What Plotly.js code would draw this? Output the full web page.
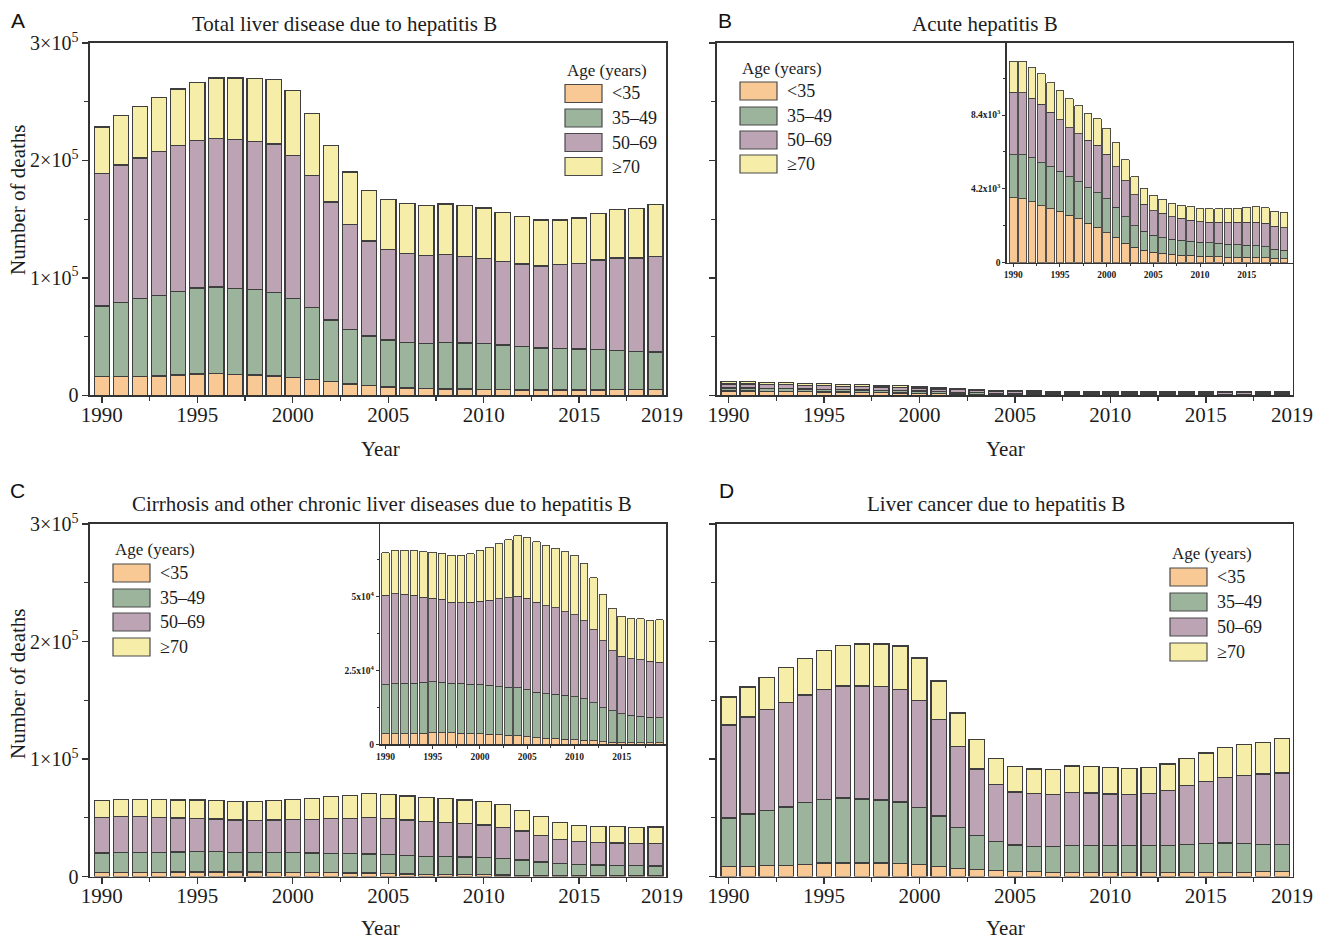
<!DOCTYPE html>
<html><head><meta charset="utf-8">
<script src="https://cdn.plot.ly/plotly-3.0.1.min.js"></script>
<style>html,body{margin:0;padding:0;background:#fff}</style>
</head><body><div id="chart" style="width:1324px;height:940px"></div>
<script>
// ---------------- DATA ----------------
const years = [1990,1991,1992,1993,1994,1995,1996,1997,1998,1999,2000,2001,2002,2003,2004,2005,2006,2007,2008,2009,2010,2011,2012,2013,2014,2015,2016,2017,2018,2019];
const ageGroups = ['&lt;35','35–49','50–69','≥70'];

// Panel A: total liver disease due to hepatitis B (deaths)
const totalLt35 = [15900,15900,15900,16500,17300,18200,18800,17900,17300,16500,15300,13600,11600,9700,8200,7100,6300,5700,5400,5400,5100,4800,4500,4500,4500,4500,4500,4800,4800,5100];
const total35to49 = [60200,63400,66800,68400,71300,73300,73500,73000,72500,71000,67400,61100,52600,46600,42400,40100,38900,38600,39500,39200,39200,38100,37000,35800,35600,35000,34700,33600,32700,31800];
const total50to69 = [112500,116700,119300,122500,123900,125300,126500,126700,126400,126400,121800,112500,100300,88900,80900,77200,75800,75000,75300,73600,72200,71300,70400,69900,71000,73000,76100,78400,79500,81300];
const totalGe70 = [39800,42000,44000,46300,48300,49700,51400,52600,53700,54900,54900,52600,48000,44900,42900,42400,42100,42300,42600,43200,42900,41500,40400,39200,38300,38600,39800,41200,42100,44000];

// Panel B: acute hepatitis B (deaths)
const acuteLt35 = [3690,3633,3462,3254,3084,2914,2705,2497,2232,2005,1703,1438,1097,870,719,605,530,473,435,416,378,359,341,322,322,303,303,284,246,227];
const acute35to49 = [2460,2517,2498,2441,2365,2289,2176,2100,2044,1987,1930,1703,1514,1230,1059,946,889,851,833,795,795,776,756,738,700,700,662,624,530,492];
const acute50to69 = [3555,3518,3386,3311,3103,2933,2800,2744,2686,2687,2535,2308,2043,1760,1552,1400,1381,1287,1248,1211,1154,1154,1192,1229,1267,1286,1324,1324,1305,1268];
const acuteGe70 = [1760,1797,1779,1741,1684,1645,1646,1589,1552,1513,1476,1362,1211,1040,908,890,814,757,757,757,757,776,776,795,814,852,908,890,852,870];

// Panel C: cirrhosis and other chronic liver diseases due to hepatitis B (deaths)
const cirrLt35 = [3620,3620,3620,3620,3730,3850,3850,3850,3730,3620,3510,3390,3170,3050,2940,2600,2150,1920,1810,1700,1580,1360,1130,900,680,570,570,570,570,570];
const cirr35to49 = [16510,16850,17080,17080,17190,17300,17190,16730,16850,16740,16730,16510,16280,16290,16170,15840,15490,15160,15040,14810,14480,14020,12890,11540,10630,9720,9270,8930,8590,8360];
const cirr50to69 = [30200,30430,30080,29740,28840,28270,27930,27490,27260,27710,28170,28850,29750,30200,30990,30870,30430,29860,29300,28390,27820,26470,24770,22510,20250,19460,19110,19110,19000,18890];
const cirrGe70 = [14480,14700,14820,15160,15390,15610,15610,15830,16060,16400,17190,17860,18660,19560,20360,20590,20470,20360,20130,20250,20020,19450,17530,15830,14470,13570,13570,13800,13690,14360];

// Panel D: liver cancer due to hepatitis B (deaths)
const cancerLt35 = [8520,8800,9090,9660,10500,11400,11600,11600,11400,10800,9940,8520,6820,5680,4830,4260,3980,3690,3690,3690,3690,3410,3410,3410,3410,3690,3690,3690,3980,3980];
const cancer35to49 = [41180,44300,47110,49440,52300,53900,55100,54300,53600,52500,48860,42880,35180,29220,24670,22440,21820,21910,22710,22710,22710,22690,22690,22990,23890,24410,24710,24110,23520,23020];
const cancer50to69 = [79200,82700,86100,89100,91700,94000,95500,96300,96600,96000,91100,82100,68800,56500,48900,45200,44600,44300,45200,44600,43700,43500,44600,46600,49900,52800,55700,58300,59700,61000];
const cancerGe70 = [23900,25500,27200,29600,31200,33000,34600,35700,36300,36900,36100,32900,28400,25000,22100,21800,21000,21000,22400,22400,22500,22100,21900,22700,23300,24200,25500,26400,27000,29300];

// Tick labels
const mainYTickVals = [0,100000,200000,300000];
const mainYTickText = ['0','1×10<sup>5</sup>','2×10<sup>5</sup>','3×10<sup>5</sup>'];
const yearTickVals = [1990,1995,2000,2005,2010,2015];
const yearTickText = ['1990','1995','2000','2005','2010','2015'];
const acuteInsetTickVals = [0,4200,8400];
const acuteInsetTickText = ['0','4.2x10<sup>3</sup>','8.4x10<sup>3</sup>'];
const cirrInsetTickVals = [0,25000,50000];
const cirrInsetTickText = ['0','2.5x10<sup>4</sup>','5x10<sup>4</sup>'];

// ---------------- STYLE ----------------
const colors = ['#F8C895','#9CB49C','#BCA4B5','#F6EDA9'];
const edge = '#3e3e3e';
const serif = 'Liberation Serif, Times New Roman, serif';
const sans = 'Liberation Sans, Arial, sans-serif';
const txt = '#1c1c1c';
const W = 1324, H = 940;
const X = p => p / W, Y = p => 1 - p / H;

const traces = [];
function addPanel(series, xa, ya, w, lw) {
  series.forEach((vals, i) => {
    traces.push({
      type: 'bar', x: years, y: vals, name: ageGroups[i], xaxis: xa, yaxis: ya,
      width: w, showlegend: false, hoverinfo: 'x+y',
      marker: {color: colors[i], line: {color: edge, width: lw}}
    });
  });
}
addPanel([totalLt35,total35to49,total50to69,totalGe70], 'x', 'y', 0.8, 1.3);
addPanel([acuteLt35,acute35to49,acute50to69,acuteGe70], 'x2', 'y2', 0.8, 1.3);
addPanel([acuteLt35,acute35to49,acute50to69,acuteGe70], 'x3', 'y3', 0.84, 0.9);
addPanel([cirrLt35,cirr35to49,cirr50to69,cirrGe70], 'x4', 'y4', 0.8, 1.3);
addPanel([cirrLt35,cirr35to49,cirr50to69,cirrGe70], 'x5', 'y5', 0.8, 0.9);
addPanel([cancerLt35,cancer35to49,cancer50to69,cancerGe70], 'x6', 'y6', 0.8, 1.3);

const lineC = '#333333';
function mainX(dom, anchor) {
  return {domain: dom, anchor: anchor, range: [1989.38, 2019.55], showline: true, mirror: true,
    linecolor: lineC, linewidth: 1.6, ticks: 'outside', ticklen: 6, tickwidth: 1.4, tickcolor: lineC,
    tickmode: 'array', tickvals: yearTickVals, ticktext: yearTickText, ticklabelstandoff: -6,
    minor: {tickmode: 'array', tickvals: [1992.5,1997.5,2002.5,2007.5,2012.5,2017.5], ticklen: 4, tickwidth: 1.2, tickcolor: lineC, ticks: 'outside'},
    tickfont: {family: serif, size: 21, color: txt}, showgrid: false, zeroline: false, fixedrange: true};
}
function mainY(dom, anchor, labels) {
  return {domain: dom, anchor: anchor, range: [0, 300000], showline: true, mirror: true,
    linecolor: lineC, linewidth: 1.6, ticks: 'outside', ticklen: 6, tickwidth: 1.4, tickcolor: lineC,
    tickmode: 'array', tickvals: mainYTickVals, ticktext: mainYTickText, showticklabels: labels,
    minor: {tickmode: 'array', tickvals: [50000,150000,250000], ticklen: 4, tickwidth: 1.2, tickcolor: lineC, ticks: 'outside'},
    tickfont: {family: serif, size: 20, color: txt}, showgrid: false, zeroline: false, fixedrange: true};
}
function insetX(dom, anchor, range) {
  return {domain: dom, anchor: anchor, range: range, showline: true, mirror: false,
    linecolor: lineC, linewidth: 1.2, ticks: 'outside', ticklen: 3, tickwidth: 1, tickcolor: lineC,
    tickmode: 'array', tickvals: yearTickVals, ticktext: yearTickText,
    minor: {tickmode: 'array', tickvals: [1992.5,1997.5,2002.5,2007.5,2012.5,2017.5], ticklen: 2, tickwidth: 1, tickcolor: lineC, ticks: 'outside'},
    tickfont: {family: serif, size: 9.5, color: txt, weight: 'bold'}, showgrid: false, zeroline: false, fixedrange: true};
}
function insetY(dom, anchor, range, vals, text, minorVals) {
  return {domain: dom, anchor: anchor, range: range, showline: true, mirror: false,
    linecolor: lineC, linewidth: 1.2, ticks: 'outside', ticklen: 3, tickwidth: 1, tickcolor: lineC,
    tickmode: 'array', tickvals: vals, ticktext: text,
    minor: {tickmode: 'array', tickvals: minorVals, ticklen: 2, tickwidth: 1, tickcolor: lineC, ticks: 'outside'},
    tickfont: {family: serif, size: 9.5, color: txt, weight: 'bold'}, showgrid: false, zeroline: false, fixedrange: true};
}

const topRowY = [Y(395.3), Y(43)];
const botRowY = [Y(876.5), Y(524)];
const leftColX = [X(90), X(666)];
const rightColX = [X(716.7), X(1292.7)];

const annotations = [];
const shapes = [];
function ann(x, y, text, opts) {
  annotations.push(Object.assign({xref: 'paper', yref: 'paper', x: X(x), y: Y(y), text: text, showarrow: false,
    xanchor: 'center', yanchor: 'middle', font: {family: serif, size: 21, color: txt}}, opts || {}));
}
// panel letters
ann(18, 20, 'A', {font: {family: sans, size: 21, color: '#111'}});
ann(725, 20, 'B', {font: {family: sans, size: 21, color: '#111'}});
ann(17, 490, 'C', {font: {family: sans, size: 21, color: '#111'}});
ann(727, 490, 'D', {font: {family: sans, size: 21, color: '#111'}});
// titles
ann(344, 24, 'Total liver disease due to hepatitis B', {font: {family: serif, size: 21, color: txt}});
ann(985, 24, 'Acute hepatitis B', {font: {family: serif, size: 21, color: txt}});
ann(382, 504, 'Cirrhosis and other chronic liver diseases due to hepatitis B', {font: {family: serif, size: 21, color: txt}});
ann(996, 504, 'Liver cancer due to hepatitis B', {font: {family: serif, size: 21, color: txt}});
// axis titles
ann(18, 200, 'Number of deaths', {textangle: -90});
ann(18, 684, 'Number of deaths', {textangle: -90});
ann(380, 449, 'Year');
ann(1005, 449, 'Year');
ann(380, 928, 'Year');
ann(1005, 928, 'Year');
// end-of-axis year labels
ann(662, 415, '2019');
ann(1292, 415, '2019');
ann(662, 896, '2019');
ann(1292, 896, '2019');

// legends
function legend(x0, titleY, rows) {
  ann(x0, titleY, 'Age (years)', {xanchor: 'left', font: {family: serif, size: 17, color: txt}});
  rows.forEach((cy, i) => {
    shapes.push({type: 'rect', xref: 'paper', yref: 'paper', x0: X(x0), x1: X(x0 + 37), y0: Y(cy + 9), y1: Y(cy - 9),
      fillcolor: colors[i], line: {color: '#4a4a4a', width: 1.2}});
    ann(x0 + 45, cy, ageGroups[i], {xanchor: 'left', font: {family: serif, size: 18, color: txt}});
  });
}
legend(565, 70, [93.5, 118, 142.5, 166.5]);
legend(740, 68, [91, 116, 140, 164]);
legend(113, 549, [573, 598, 622, 647]);
legend(1170, 553, [577, 602, 627, 652]);

const layout = {
  width: W, height: H, margin: {l: 0, r: 0, t: 0, b: 0},
  paper_bgcolor: '#ffffff', plot_bgcolor: 'rgba(0,0,0,0)',
  barmode: 'stack', showlegend: false,
  xaxis: mainX(leftColX, 'y'), yaxis: mainY(topRowY, 'x', true),
  xaxis2: mainX(rightColX, 'y2'), yaxis2: mainY(topRowY, 'x2', false),
  xaxis3: insetX([X(1006.5), X(1292.7)], 'y3', [1989.27, 2019.93]),
  yaxis3: insetY([Y(262.7), Y(43)], 'x3', [0, 12500], acuteInsetTickVals, acuteInsetTickText, [2100,6300,10500]),
  xaxis4: mainX(leftColX, 'y4'), yaxis4: mainY(botRowY, 'x4', true),
  xaxis5: insetX([X(380), X(666)], 'y5', [1989.42, 2019.69]),
  yaxis5: insetY([Y(744.3), Y(524)], 'x5', [0, 74500], cirrInsetTickVals, cirrInsetTickText, [12500,37500,62500]),
  xaxis6: mainX(rightColX, 'y6'), yaxis6: mainY(botRowY, 'x6', false),
  annotations: annotations, shapes: shapes
};
Plotly.newPlot('chart', traces, layout, {displayModeBar: false, staticPlot: true});
</script></body></html>
